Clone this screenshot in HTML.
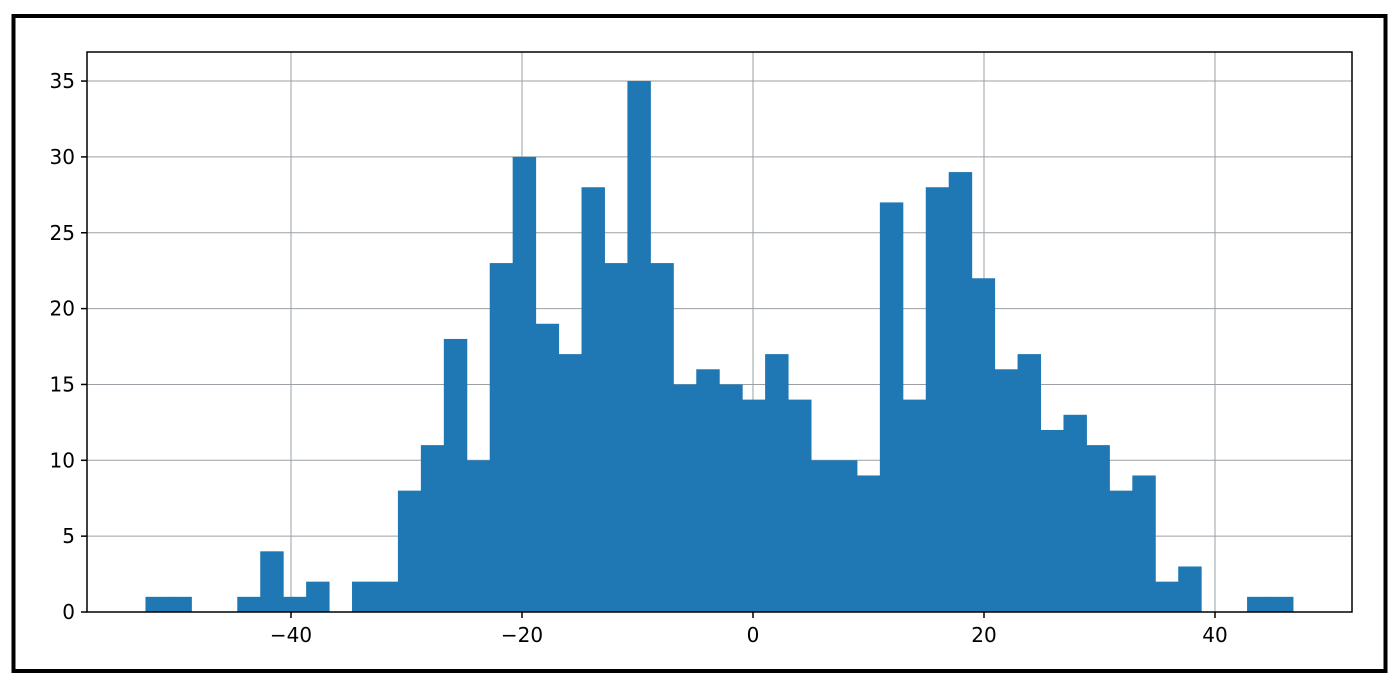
<!DOCTYPE html>
<html><head><meta charset="utf-8"><style>
html,body{margin:0;padding:0;background:#fff;}
svg{display:block;font-family:"DejaVu Sans","Liberation Sans",sans-serif;}
</style></head><body>
<svg id="chart" width="1400" height="687" viewBox="0 0 1400 687">
<rect x="13.5" y="16" width="1372" height="655" fill="none" stroke="#000" stroke-width="4"/>
<g id="grid"></g>
<g id="bars"></g>
<rect x="87" y="52" width="1265" height="560" fill="none" stroke="#000" stroke-width="1.5"/>
<g id="ticks"></g>
</svg>
<script>
const binStart = -52.6;
const binWidth = 1.987;
const counts = [1,1,0,0,1,4,1,2,0,2,2,8,11,18,10,23,30,19,17,28,23,35,23,15,16,15,14,17,14,10,10,9,27,14,28,29,22,16,17,12,13,11,8,9,2,3,0,0,1,1];
const xTicks = [-40,-20,0,20,40];
const yTicks = [0,5,10,15,20,25,30,35];

const L=87,R=1352,T=52,B=612;
const xs = v => 753 + v*11.55;
const ys = v => 612 - v*15.17;
const NS="http://www.w3.org/2000/svg";
const grid=document.getElementById('grid'), bars=document.getElementById('bars'), ticks=document.getElementById('ticks');
function mk(tag,attrs,parent){const e=document.createElementNS(NS,tag);for(const k in attrs)e.setAttribute(k,attrs[k]);parent.appendChild(e);return e;}

xTicks.forEach(v=>{
  const x=xs(v);
  const g=mk('line',{x1:x,x2:x,y1:T,y2:B,stroke:'#9aa0a6','stroke-width':1},grid);
  
  
  const t=mk('line',{x1:x,x2:x,y1:B,y2:B+6,stroke:'#000','stroke-width':1.5},ticks);
  
  
  const lb=mk('text',{x:x,y:B+30,'text-anchor':'middle','font-size':20,fill:'#000'},ticks);
  lb.textContent=(v<0?'\u2212'+(-v):v);
  
  
});
yTicks.forEach(v=>{
  const y=ys(v);
  const g=mk('line',{x1:L,x2:R,y1:y,y2:y,stroke:'#9aa0a6','stroke-width':1},grid);
  
  
  const t=mk('line',{x1:L-6,x2:L,y1:y,y2:y,stroke:'#000','stroke-width':1.5},ticks);
  
  
  const lb=mk('text',{x:L-12,y:y+7,'text-anchor':'end','font-size':20,fill:'#000'},ticks);
  lb.textContent=v;
  
  
});
counts.forEach((c,i)=>{
  if(c<=0)return;
  const x0=xs(binStart+i*binWidth), x1=xs(binStart+(i+1)*binWidth);
  const r=mk('rect',{x:x0,y:ys(c),width:x1-x0+0.5,height:ys(0)-ys(c),fill:'#1f77b4'},bars);
  
  
});
</script>
</body></html>
